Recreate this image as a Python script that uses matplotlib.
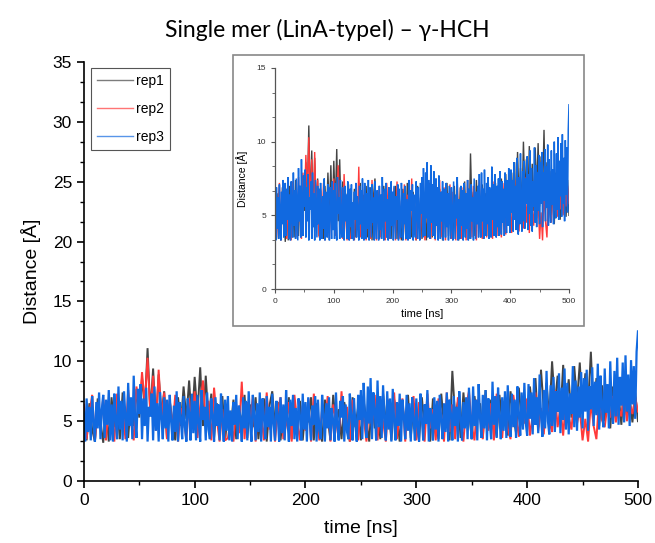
import numpy as np
import matplotlib
matplotlib.use('Agg')
import matplotlib.pyplot as plt
from matplotlib.ticker import AutoMinorLocator, MultipleLocator
from matplotlib.patches import Rectangle

# distance traces rep1 / rep2, one value every 2.5 ns (0 .. 500 ns)
rep1 = [5.2, 3.4, 6.5, 4.3, 3.3, 6.9, 5.0, 3.2, 6.2, 3.3, 7.0, 4.5, 6.3, 3.5, 7.4, 5.1, 3.6, 6.8, 4.6, 7.7,
        5.3, 8.6, 6.1, 11.1, 5.7, 9.4, 4.8, 8.9, 5.6, 7.5, 3.6, 6.7, 4.9, 3.4, 7.0, 4.6, 7.9, 5.2, 8.4, 4.8,
        8.7, 5.5, 9.5, 4.6, 8.8, 5.0, 7.3, 3.6, 6.5, 4.2, 7.1, 3.4, 5.9, 4.4, 6.8, 3.5, 6.1, 4.7, 7.2, 3.6,
        6.4, 4.5, 7.0, 3.5, 5.8, 6.9, 3.3, 6.3, 7.5, 4.6, 6.6, 3.4, 6.0, 4.8, 7.0, 3.5, 6.2, 4.3, 6.7, 3.4,
        6.1, 4.9, 7.0, 3.4, 6.5, 4.4, 3.3, 6.8, 5.3, 3.4, 7.2, 4.7, 6.0, 3.5, 6.6, 5.1, 3.3, 7.0, 4.5, 6.2,
        3.4, 6.7, 5.0, 3.3, 7.1, 4.4, 6.4, 3.5, 7.3, 4.9, 6.0, 3.4, 6.8, 5.5, 3.3, 6.3, 4.6, 7.2, 3.6, 6.5,
        5.0, 3.4, 7.0, 4.3, 6.4, 3.3, 6.9, 5.2, 3.5, 7.3, 4.6, 6.2, 3.4, 9.2, 5.4, 6.6, 3.6, 7.4, 4.8, 6.0,
        3.5, 7.1, 5.1, 6.5, 3.6, 7.6, 4.4, 6.8, 5.3, 3.7, 7.2, 4.9, 6.3, 3.8, 7.5, 5.5, 4.0, 7.8, 5.0, 6.7,
        4.3, 7.9, 5.6, 8.6, 4.5, 9.3, 6.0, 8.2, 5.2, 10.0, 6.4, 8.8, 5.4, 9.7, 6.2, 8.5, 5.3, 9.6, 6.6, 9.9,
        5.6, 9.0, 6.3, 10.8, 5.4, 8.6, 4.6, 8.0, 5.0, 7.6, 4.4, 7.9, 5.3, 7.2, 4.7, 8.3, 5.5, 6.9, 4.9, 7.4,
        5.0]
rep2 = [6.4, 3.5, 5.6, 7.2, 3.3, 6.0, 4.6, 7.0, 3.4, 6.5, 5.2, 3.3, 7.3, 4.8, 6.2, 3.5, 7.6, 5.0, 3.4, 7.9,
        5.8, 9.1, 6.4, 10.3, 5.5, 8.8, 4.2, 9.3, 5.1, 7.4, 3.5, 6.8, 4.4, 7.2, 3.3, 6.1, 5.3, 3.4, 6.9, 4.5,
        7.5, 3.6, 6.3, 8.4, 4.7, 6.7, 3.4, 7.8, 5.2, 3.3, 6.0, 3.4, 3.6, 5.1, 3.3, 6.4, 4.0, 8.3, 3.5, 6.6,
        4.9, 7.1, 3.3, 6.2, 5.5, 3.4, 7.4, 4.3, 6.5, 3.3, 5.8, 7.0, 3.5, 4.7, 6.6, 3.3, 7.2, 5.0, 3.4, 6.3,
        4.2, 6.9, 3.3, 7.3, 5.4, 3.4, 6.0, 4.6, 7.1, 3.3, 6.4, 5.1, 3.5, 7.5, 4.3, 6.2, 3.3, 6.8, 4.9, 3.4,
        7.0, 5.3, 3.3, 6.5, 4.5, 7.2, 3.4, 6.1, 5.0, 3.3, 6.8, 4.2, 7.4, 3.5, 5.7, 6.9, 3.3, 6.3, 4.8, 7.1,
        3.4, 6.6, 5.2, 3.3, 7.3, 4.4, 6.0, 3.4, 6.9, 5.5, 3.3, 7.4, 4.1, 6.4, 3.5, 7.0, 5.0, 3.3, 6.2, 7.5,
        4.6, 3.4, 6.8, 5.3, 3.5, 7.1, 4.2, 6.5, 3.4, 7.3, 5.1, 3.6, 6.7, 4.4, 3.5, 7.2, 5.6, 3.7, 6.3, 4.8,
        6.9, 3.8, 5.5, 7.4, 4.2, 6.1, 3.9, 7.0, 5.0, 4.1, 7.6, 4.5, 6.2, 3.8, 6.8, 5.4, 4.3, 7.2, 4.8, 6.0,
        3.4, 5.2, 3.3, 6.6, 4.6, 3.5, 7.0, 5.1, 4.5, 6.4, 5.3, 7.1, 4.9, 6.2, 5.4, 7.3, 5.0, 6.5, 5.6, 7.0,
        5.8]
# rep3, one value every 1.25 ns
rep3 = [5.8, 3.3, 6.9, 4.1, 6.2, 3.4, 7.1, 5.0, 3.3, 6.6, 4.4, 7.4, 3.5, 6.0, 7.2, 3.6, 6.8, 4.7, 7.6, 3.4,
        6.4, 3.3, 7.3, 5.1, 3.5, 7.9, 4.3, 6.7, 3.4, 7.5, 5.4, 3.3, 8.2, 4.6, 7.0, 3.5, 8.8, 5.2, 3.6, 7.7,
        5.6, 8.1, 3.5, 6.9, 4.6, 7.8, 3.3, 6.2, 5.4, 7.3, 3.4, 7.9, 4.2, 6.5, 3.3, 7.4, 5.3, 3.5, 7.0, 4.4,
        6.8, 3.3, 7.2, 5.0, 3.4, 6.3, 4.1, 7.5, 3.3, 6.6, 5.2, 3.5, 7.1, 4.5, 3.3, 6.9, 5.7, 3.4, 7.3, 4.0,
        6.7, 3.4, 7.2, 4.8, 3.3, 7.6, 5.1, 6.2, 3.4, 7.4, 4.3, 3.5, 6.9, 5.5, 3.3, 7.0, 4.6, 6.4, 3.4, 7.3,
        5.0, 3.3, 6.8, 4.2, 7.1, 3.4, 5.9, 3.3, 6.6, 4.7, 7.2, 3.5, 6.3, 5.2, 3.3, 7.0, 4.4, 6.7, 3.4, 7.5,
        4.9, 3.3, 7.2, 5.6, 3.4, 6.5, 4.1, 7.4, 3.3, 6.9, 5.3, 3.5, 7.1, 4.5, 6.2, 3.3, 7.3, 4.8, 3.4, 6.7,
        5.5, 3.3, 7.0, 4.0, 6.4, 3.4, 7.6, 5.1, 3.3, 6.8, 4.6, 7.2, 3.5, 6.1, 3.3, 6.9, 5.4, 3.4, 7.3, 4.3,
        6.6, 3.3, 7.0, 5.2, 3.4, 6.3, 4.7, 7.1, 3.3, 6.8, 4.2, 3.5, 7.2, 5.6, 3.3, 6.5, 4.4, 7.0, 3.4, 6.1,
        5.0, 3.3, 7.4, 4.6, 3.4, 6.7, 5.3, 7.1, 3.3, 6.4, 4.1, 3.5, 7.3, 5.5, 3.4, 6.9, 4.8, 3.3, 7.2, 5.1,
        7.6, 3.5, 8.2, 5.4, 3.6, 7.9, 4.8, 8.6, 3.5, 7.4, 5.9, 3.4, 8.4, 4.5, 7.1, 3.6, 8.0, 5.2, 3.4, 7.5,
        4.3, 6.9, 3.3, 7.7, 5.0, 3.4, 6.6, 4.6, 7.3, 3.3, 6.8, 5.4, 3.5, 7.2, 4.2, 6.5, 3.3, 7.0, 5.1, 3.4,
        6.9, 4.5, 3.3, 7.3, 5.2, 3.4, 6.4, 4.8, 7.6, 3.3, 6.1, 5.5, 3.4, 7.0, 4.3, 6.7, 3.3, 7.2, 5.0, 3.5,
        6.5, 4.1, 7.4, 3.3, 6.8, 5.6, 3.4, 7.1, 4.6, 6.2, 3.3, 7.5, 5.3, 3.4, 6.6, 4.4, 7.0, 3.5, 7.8, 5.0,
        3.5, 7.9, 4.6, 6.8, 3.4, 8.1, 5.3, 3.6, 7.2, 4.4, 7.6, 3.4, 6.9, 5.0, 3.5, 8.3, 4.7, 7.1, 3.6, 7.8,
        5.4, 3.5, 7.0, 4.2, 7.5, 3.6, 8.0, 5.1, 3.7, 7.3, 4.5, 6.8, 3.6, 7.9, 5.6, 3.8, 7.4, 4.3, 8.2, 4.9,
        3.8, 8.1, 5.2, 7.4, 3.9, 8.6, 4.7, 7.0, 4.0, 8.9, 5.5, 3.7, 7.6, 4.4, 9.2, 5.0, 3.9, 8.0, 4.6, 8.7,
        4.1, 7.5, 5.8, 9.0, 4.0, 7.8, 5.1, 9.4, 4.3, 8.2, 3.9, 7.3, 5.6, 9.6, 4.5, 8.4, 4.2, 7.9, 5.3, 9.1,
        4.4, 8.6, 5.8, 9.3, 4.2, 7.9, 6.0, 9.5, 4.6, 8.3, 5.5, 9.8, 4.3, 8.8, 6.2, 4.5, 9.4, 5.7, 8.1, 4.4,
        10.0, 6.1, 4.8, 9.2, 5.4, 10.3, 4.7, 8.7, 6.3, 9.9, 4.9, 10.5, 5.8, 8.9, 4.6, 10.1, 6.4, 9.6, 5.2, 10.8,
        12.5]

labels = ['rep1', 'rep2', 'rep3']
colors = ['#444444', '#ff3a3a', '#1169e0']
title = 'Single mer (LinA-typeI) \u2013 \u03b3-HCH'

series = [rep1, rep2, rep3]
main_lw = [1.4, 1.4, 1.6]
inset_lw = [1.0, 1.0, 1.1]

plt.rcParams['font.family'] = ['Liberation Sans', 'DejaVu Sans']

fig = plt.figure(figsize=(6.55, 5.43), dpi=100)
ax = fig.add_axes([0.128, 0.114, 0.846, 0.772])

for vals, lab, col, lw in zip(series, labels, colors, main_lw):
    t = np.linspace(0, 500, len(vals))
    ax.plot(t, vals, color=col, lw=lw, label=lab, solid_joinstyle='miter')

ax.set_xlim(0, 500)
ax.set_ylim(0, 35)
ax.xaxis.set_major_locator(MultipleLocator(100))
ax.xaxis.set_minor_locator(AutoMinorLocator(2))
ax.yaxis.set_major_locator(MultipleLocator(5))
ax.yaxis.set_minor_locator(AutoMinorLocator(3))
for s in ['top', 'right']:
    ax.spines[s].set_visible(False)
for s in ['left', 'bottom']:
    ax.spines[s].set_linewidth(1.2)
ax.tick_params(which='major', length=5, width=1.2, labelsize=12.5)
ax.tick_params(which='minor', length=3, width=1.0)
ax.set_xlabel('time [ns]', fontsize=14, labelpad=9)
ax.set_ylabel('Distance [\u00c5]', fontsize=14, labelpad=8)

leg = ax.legend(loc='upper left', bbox_to_anchor=(0.013, 0.986), borderaxespad=0, fontsize=10,
                fancybox=False, edgecolor='#555555', framealpha=1,
                handlelength=2.6, labelspacing=1.0, borderpad=0.45, handletextpad=0.2)
leg.get_frame().set_linewidth(0.8)
for h in leg.get_lines():
    h.set_linewidth(1.0)
    h.set_alpha(0.7)

fig.text(0.5, 0.945, title, ha='center', va='center', fontsize=16.5,
         family=['Lato', 'DejaVu Sans'])

# inset frame
fig.patches.append(Rectangle((233 / 655, 1 - 326 / 543), (584 - 233) / 655, (326 - 55) / 543,
                             transform=fig.transFigure, fill=False, edgecolor='#888888', lw=1.2))

axin = fig.add_axes([275 / 655, 1 - 289 / 543, (569 - 275) / 655, (289 - 68) / 543])
for vals, col, lw in zip(series, colors, inset_lw):
    t = np.linspace(0, 500, len(vals))
    axin.plot(t, vals, color=col, lw=lw, solid_joinstyle='miter')
axin.set_xlim(0, 500)
axin.set_ylim(0, 15)
axin.xaxis.set_major_locator(MultipleLocator(100))
axin.xaxis.set_minor_locator(AutoMinorLocator(2))
axin.yaxis.set_major_locator(MultipleLocator(5))
axin.yaxis.set_minor_locator(AutoMinorLocator(3))
for s in ['top', 'right']:
    axin.spines[s].set_visible(False)
for s in ['left', 'bottom']:
    axin.spines[s].set_color('#555555')
    axin.spines[s].set_linewidth(0.9)
axin.tick_params(which='major', length=3, width=0.8, labelsize=6, colors='#555555', labelcolor='#333333')
axin.tick_params(which='minor', length=2, width=0.6, colors='#555555')
axin.set_xlabel('time [ns]', fontsize=8, labelpad=3)
axin.set_ylabel('Distance [\u00c5]', fontsize=7.5, labelpad=6)

fig.savefig('out.png', dpi=100)
